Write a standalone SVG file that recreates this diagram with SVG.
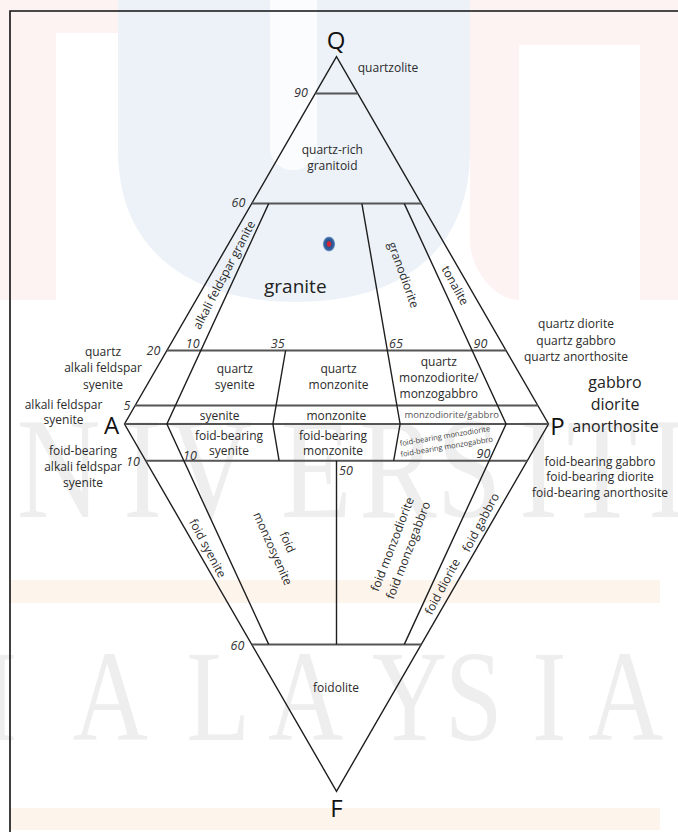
<svg xmlns="http://www.w3.org/2000/svg" width="678" height="832" viewBox="0 0 678 832">
<defs>
<style>
.ln{fill:none;stroke:#1e1e1e;stroke-width:1.4;stroke-linejoin:miter}
.hl{fill:none;stroke:#555;stroke-width:2}
.t{font-family:"Open Sans","Liberation Sans",sans-serif;font-size:12px;fill:#2b2b2b;text-anchor:middle}
.n{font-family:"Open Sans","Liberation Sans",sans-serif;font-style:italic;font-size:12.5px;fill:#333;text-anchor:middle}
.big{font-size:24px;fill:#111}
.mid{font-size:16px;fill:#222}
.wm{font-family:"Liberation Serif",serif;fill:#eeeeee}
</style>
<radialGradient id="dot" cx="0.5" cy="0.5" r="0.5">
<stop offset="0" stop-color="#e0202a"/>
<stop offset="0.3" stop-color="#d02838"/>
<stop offset="0.45" stop-color="#24508f"/>
<stop offset="0.8" stop-color="#3b67a5"/>
<stop offset="1" stop-color="#9fb6d6"/>
</radialGradient>
</defs>
<rect width="678" height="832" fill="#ffffff"/>
<g id="watermark">
<path d="M118,0 L118,150 C118,262 205,302 296,302 C387,302 470,262 470,150 L470,0 Z" fill="#ecf2f8"/>
<path d="M270,0 L270,147 C270,162 281,170 293,170 C306,170 317,162 317,147 L317,0 Z" fill="#fbfcfe"/>
<path d="M470,0 L678,0 L678,300 L640,300 L640,45 L519,45 L519,300 C495,300 470,270 470,240 Z" fill="#fef3f3"/>
<path d="M0,0 L118,0 L118,33 L56,33 L56,300 L0,300 Z" fill="#fef3f3"/>
<rect x="10" y="580" width="650" height="23" fill="#fdf4ec"/>
<rect x="10" y="808" width="650" height="22" fill="#fdf4ec"/>
<text class="wm" font-size="145" transform="scale(0.8 1)" x="21 154 211 351 449 546 649 708 810" y="517">NIVERSITI</text>
<text class="wm" font-size="130" transform="scale(0.8 1)" x="-95 91 233 335 465 556 665 735" y="740">MALAYSIA</text>
</g>
<g id="frame">
<path d="M10,832 L10,11 L678,11" fill="none" stroke="#111" stroke-width="1.6"/>
</g>
<g id="connectors">
<path class="ln" d="M336.5,56.7 L124.5,424 L336.5,791.3 L548.5,424 Z"/>
<path class="hl" d="M315.3,93.4 H357.7"/>
<path class="hl" d="M251.7,203.6 H421.3"/>
<path class="hl" d="M166.9,350.5 H506.1"/>
<path class="hl" d="M135.1,405.6 H537.9"/>
<path class="hl" d="M124.5,424 H548.5"/>
<path class="hl" d="M145.6,460.7 H527.4"/>
<path class="hl" d="M251.7,644.4 H421.3"/>
<path class="ln" d="M268.7,203.6 L166.9,424 L268.7,644.4"/>
<path class="ln" d="M285.6,350.5 L272.9,424 L279.1,460.7"/>
<path class="ln" d="M361.9,203.6 L400.1,424 L393.7,460.7"/>
<path class="ln" d="M404.3,203.6 L506.1,424 L404.3,644.4"/>
<path class="ln" d="M336.5,460.7 V644.4"/>
</g>
<g id="apex-Q"><text class="t big" x="336" y="48.5">Q</text></g>
<g id="apex-A"><text class="t big" x="111.6" y="434">A</text></g>
<g id="apex-P"><text class="t big" x="557.5" y="434.5">P</text></g>
<g id="apex-F"><text class="t big" x="336.4" y="817">F</text></g>
<g id="ticks">
<text class="n" x="301" y="97">90</text>
<text class="n" x="238.5" y="207">60</text>
<text class="n" x="153.5" y="355">20</text>
<text class="n" x="192.7" y="348">10</text>
<text class="n" x="277.7" y="348">35</text>
<text class="n" x="396" y="348">65</text>
<text class="n" x="480.5" y="348">90</text>
<text class="n" x="127" y="410">5</text>
<text class="n" x="133" y="466">10</text>
<text class="n" x="190" y="460">10</text>
<text class="n" x="483.5" y="457.5">90</text>
<text class="n" x="346" y="474.5">50</text>
<text class="n" x="237.5" y="650">60</text>
</g>
<g id="quartzolite"><text class="t" x="388" y="72">quartzolite</text></g>
<g id="quartz-rich-granitoid"><text class="t" x="332.3" y="154">quartz-rich</text><text class="t" x="332.3" y="170">granitoid</text></g>
<g id="granite">
<text class="t" x="295.3" y="293" style="font-size:19px;fill:#222">granite</text>
<ellipse cx="329" cy="244" rx="6.2" ry="7.6" fill="url(#dot)"/>
</g>
<g id="alkali-feldspar-granite" transform="translate(224.2,275) rotate(-62.5)"><text class="t" x="0" y="4">alkali feldspar granite</text></g>
<g id="granodiorite" transform="translate(403.3,275) rotate(70)"><text class="t" x="0" y="4">granodiorite</text></g>
<g id="tonalite" transform="translate(455,285.5) rotate(61)"><text class="t" x="0" y="4">tonalite</text></g>
<g id="quartz-syenite"><text class="t" x="234.8" y="373.3">quartz</text><text class="t" x="234.8" y="389">syenite</text></g>
<g id="quartz-monzonite"><text class="t" x="338.5" y="373.3">quartz</text><text class="t" x="338.5" y="389">monzonite</text></g>
<g id="quartz-monzodiorite"><text class="t" x="438.8" y="365.7">quartz</text><text class="t" x="438.8" y="382.3">monzodiorite/</text><text class="t" x="438.8" y="398.3">monzogabbro</text></g>
<g id="syenite"><text class="t" x="219.6" y="420">syenite</text></g>
<g id="monzonite"><text class="t" x="336.4" y="420">monzonite</text></g>
<g id="monzodiorite-gabbro"><text class="t" x="451.7" y="418.4" style="font-size:9.5px;fill:#555">monzodiorite/gabbro</text></g>
<g id="foid-bearing-syenite"><text class="t" x="229" y="439.7">foid-bearing</text><text class="t" x="229" y="454.7">syenite</text></g>
<g id="foid-bearing-monzonite"><text class="t" x="333" y="439.7">foid-bearing</text><text class="t" x="333" y="454.7">monzonite</text></g>
<g id="foid-bearing-monzodiorite" transform="translate(445.7,441.2) rotate(-9.5)"><text class="t" x="0" y="-2.7" style="font-size:7.5px;fill:#444">foid-bearing monzodiorite</text><text class="t" x="0" y="8.1" style="font-size:7.5px;fill:#444">foid-bearing monzogabbro</text></g>
<g id="quartz-alkali-feldspar-syenite"><text class="t" x="103" y="356">quartz</text><text class="t" x="103" y="372.3">alkali feldspar</text><text class="t" x="103" y="389">syenite</text></g>
<g id="alkali-feldspar-syenite"><text class="t" x="63.5" y="408.7">alkali feldspar</text><text class="t" x="63.5" y="424.3">syenite</text></g>
<g id="foid-bearing-alkali-feldspar-syenite"><text class="t" x="83" y="455">foid-bearing</text><text class="t" x="83" y="470.7">alkali feldspar</text><text class="t" x="83" y="487">syenite</text></g>
<g id="quartz-diorite"><text class="t" x="576" y="328">quartz diorite</text><text class="t" x="576" y="344.5">quartz gabbro</text><text class="t" x="576" y="360.5">quartz anorthosite</text></g>
<g id="gabbro-diorite-anorthosite"><text class="t mid" x="615" y="388">gabbro</text><text class="t mid" x="615" y="410">diorite</text><text class="t mid" x="615.5" y="431.5">anorthosite</text></g>
<g id="foid-bearing-gabbro"><text class="t" x="600" y="465.7">foid-bearing gabbro</text><text class="t" x="600" y="480.7">foid-bearing diorite</text><text class="t" x="600" y="496.7">foid-bearing anorthosite</text></g>
<g id="foid-syenite" transform="translate(207.5,548.3) rotate(62)"><text class="t" x="0" y="4">foid syenite</text></g>
<g id="foid-monzosyenite" transform="translate(280,545.5) rotate(66)"><text class="t" x="0" y="-4">foid</text><text class="t" x="0" y="12">monzosyenite</text></g>
<g id="foid-monzodiorite" transform="translate(400.4,547.3) rotate(-69)"><text class="t" x="0" y="-4.5">foid monzodiorite</text><text class="t" x="0" y="12.5">foid monzogabbro</text></g>
<g id="foid-diorite" transform="translate(442.5,586.7) rotate(-62)"><text class="t" x="0" y="4">foid diorite</text></g>
<g id="foid-gabbro" transform="translate(480.8,522.5) rotate(-62)"><text class="t" x="0" y="4">foid gabbro</text></g>
<g id="foidolite"><text class="t" x="336" y="691.7">foidolite</text></g>
</svg>
